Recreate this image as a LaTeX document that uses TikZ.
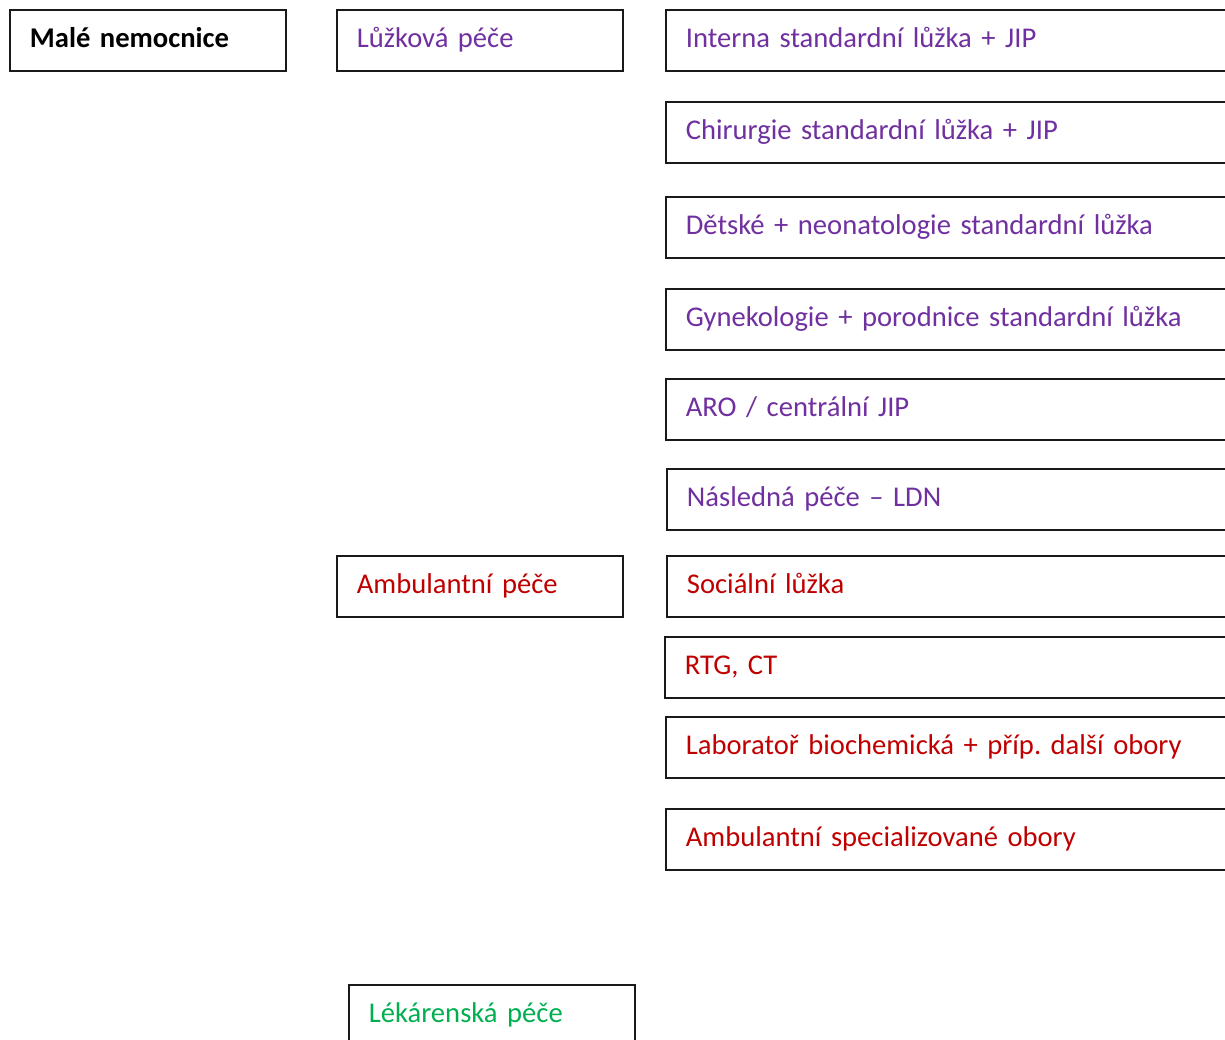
\documentclass[tikz,border=0pt]{standalone}
\usepackage{fontspec}
\setmainfont{Carlito}
\usetikzlibrary{positioning}
\definecolor{luzkoCol}{HTML}{7030A0}
\definecolor{ambulCol}{HTML}{C00000}
\definecolor{lekarCol}{HTML}{00B050}
\newcommand{\boxFont}{\fontsize{28.6}{34}\selectfont\frenchspacing}
\tikzset{
  box/.style={rectangle, draw=black!90, fill=white, line width=1.8pt, anchor=north west,
    inner ysep=0pt, text height=38pt, text depth=23pt, inner xsep=20pt, align=left, font=\boxFont,
    execute at begin node=\leavevmode\hbox\bgroup, execute at end node=\egroup},
  headBox/.style={box, text width=236pt, font=\boxFont\bfseries},
  groupBox/.style={box, text width=246pt},
  itemBox/.style={box, text width=560pt},
  luzko/.style={text=luzkoCol},
  ambul/.style={text=ambulCol},
  lekar/.style={text=lekarCol}
}

\begin{document}
\begin{tikzpicture}[x=1pt, y=-1pt]
  \clip (0,0) rectangle (1225,1040);
  \fill[white] (0,0) rectangle (1225,1040);
  % first column
  \node [headBox] (hosp) at (9,9) {Malé nemocnice};
  % second column
  \node [groupBox, luzko] (luzkova) at (336,9) {Lůžková péče};
  \node [groupBox, ambul] (ambulantni) at (336,555) {Ambulantní péče};
  \node [groupBox, lekar] (lekarenska) at (348,984) {Lékárenská péče};
  % third column
  \node [itemBox, luzko] (interna) at (665,9) {Interna standardní lůžka + JIP};
  \node [itemBox, luzko] (chirurgie) at (665,101) {Chirurgie standardní lůžka + JIP};
  \node [itemBox, luzko] (detske) at (665,196) {Dětské + neonatologie standardní lůžka};
  \node [itemBox, luzko] (gyn) at (665,288) {Gynekologie + porodnice standardní lůžka};
  \node [itemBox, luzko] (aro) at (665,378) {ARO / centrální JIP};
  \node [itemBox, luzko] (ldn) at (666,468) {Následná péče – LDN};
  \node [itemBox, ambul] (socialni) at (666,555) {Sociální lůžka};
  \node [itemBox, ambul] (rtg) at (664,636) {RTG, CT};
  \node [itemBox, ambul] (lab) at (665,716) {Laboratoř biochemická + příp. další obory};
  \node [itemBox, ambul] (spec) at (665,808) {Ambulantní specializované obory};
\end{tikzpicture}
\end{document}
